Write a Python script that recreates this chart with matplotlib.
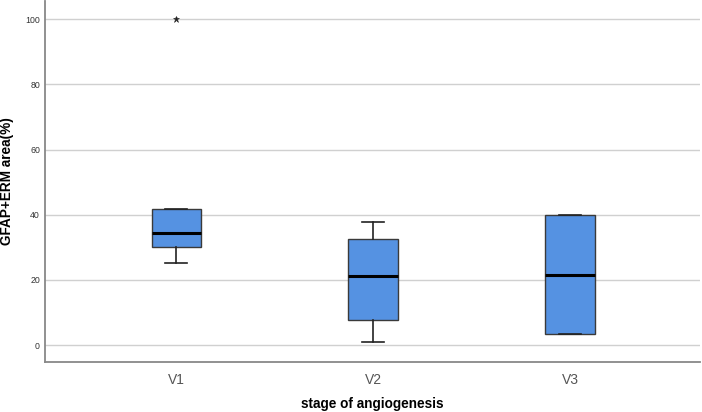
import matplotlib
matplotlib.use("Agg")
import matplotlib.pyplot as plt

categories = ["V1", "V2", "V3"]
whisker_low = [25.1, 0.8, 3.3]
q1 = [30.0, 7.8, 3.3]
median = [34.3, 21.1, 21.5]
q3 = [41.8, 32.5, 39.9]
whisker_high = [41.8, 37.7, 39.9]
outliers = [[100.0], [], []]
yticks = [0, 20, 40, 60, 80, 100]

plt.rcParams['font.family'] = ['Liberation Sans', 'DejaVu Sans']

fig = plt.figure(figsize=(7.02, 4.12), dpi=100)
ax = fig.add_axes([45/702, 50/412, 655/702, 361/412])

stats = []
for i, c in enumerate(categories):
    stats.append(dict(label=c, whislo=whisker_low[i], q1=q1[i], med=median[i],
                      q3=q3[i], whishi=whisker_high[i], fliers=outliers[i]))

ax.bxp(stats, positions=range(len(categories)), widths=0.25, patch_artist=True,
       boxprops=dict(facecolor='#5592e2', edgecolor='#3a3a3a', linewidth=1.0),
       medianprops=dict(color='black', linewidth=2.2),
       whiskerprops=dict(color='#222222', linewidth=1.2),
       capprops=dict(color='#222222', linewidth=1.2),
       capwidths=0.11,
       flierprops=dict(marker='*', markersize=5, markerfacecolor='#222222',
                       markeredgecolor='#222222', markeredgewidth=0.4))

ax.set_xlim(-0.666, 2.66)
ax.set_ylim(-5.2, 105.6)
ax.set_yticks(yticks)
ax.set_yticklabels([str(v) for v in yticks], fontsize=6.3, color='#333333')
ax.set_xticks(range(len(categories)))
ax.set_xticklabels(categories, fontsize=10, color='#555555')
ax.tick_params(axis='both', length=0)
ax.tick_params(axis='y', pad=3.6)
ax.tick_params(axis='x', pad=8)
ax.yaxis.grid(True, color='#d0d0d0', linewidth=1.0)
ax.set_axisbelow(True)
for s in ['top', 'right']:
    ax.spines[s].set_visible(False)
for s in ['left', 'bottom']:
    ax.spines[s].set_color('#888888')
    ax.spines[s].set_linewidth(1.3)

ax.set_ylabel('GFAP+ERM area(%)', fontsize=9.8, fontweight='bold')
ax.set_xlabel('stage of angiogenesis', fontsize=9.8, fontweight='bold')
ax.xaxis.set_label_coords(327/655, -35/361)
ax.yaxis.set_label_coords(-31/655, 0.5)

fig.savefig('out.png', dpi=100)
